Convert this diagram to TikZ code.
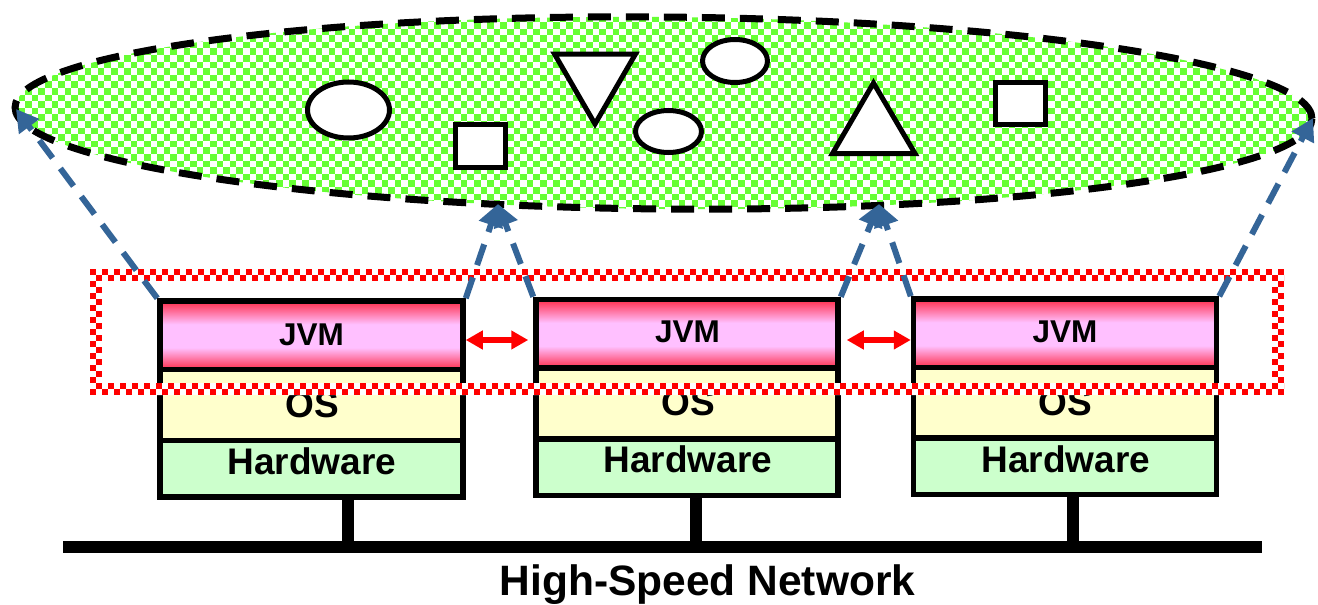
\documentclass[tikz,border=0pt]{standalone}
\usepackage{fontspec}
\setmainfont{Liberation Sans}
\usetikzlibrary{arrows.meta,shapes.geometric}

\definecolor{jred}{RGB}{255,45,75}
\definecolor{jpink}{RGB}{255,192,255}
\definecolor{osfill}{RGB}{255,255,204}
\definecolor{hwfill}{RGB}{204,255,204}
\definecolor{checkgreen}{RGB}{102,255,51}
\definecolor{arrblue}{RGB}{52,101,152}

\pgfdeclareverticalshading{jvmshade}{100bp}{color(0bp)=(jred); color(25bp)=(jred); color(41bp)=(jpink); color(58bp)=(jpink); color(75bp)=(jred); color(100bp)=(jred)}

\begin{document}
\begin{tikzpicture}[x=1pt,y=-1pt,
  layer/.style={draw=black, line width=5.5pt, minimum width=303pt, inner sep=0pt},
  jvmbox/.style={layer, shading=jvmshade},
  osbox/.style={layer, fill=osfill},
  hwbox/.style={layer, fill=hwfill},
  jvmtxt/.style={anchor=base, inner sep=0pt, font=\bfseries\fontsize{31.5}{36}\selectfont},
  lyrtxt/.style={anchor=base, inner sep=0pt, font=\bfseries\fontsize{37}{42}\selectfont},
  shp/.style={draw=black, fill=white, line width=5pt, inner sep=0pt, line join=miter},
  stub/.style={draw=black, line width=12pt},
  chk/.style={draw=#1, line width=6pt, dash pattern=on 6pt off 6pt},
  gchk/.style={draw=checkgreen, line width=6.6pt, dash pattern=on 6.6pt off 6.6pt},
  bluearr/.style={draw=arrblue, line width=6pt, dash pattern=on 22pt off 13pt, -{Triangle[length=22pt,width=24pt]}},
  redarr/.style={draw=red, line width=6pt, {Triangle[length=17pt,width=18pt]}-{Triangle[length=17pt,width=18pt]}}
]
\useasboundingbox (0,0) rectangle (1318,605);
\fill[white] (0,0) rectangle (1318,605);

% cloud ellipse: checkered fill
\begin{scope}
  \clip[rotate around={-0.5:(663.5,113)}] (663.5,113) ellipse [x radius=648.5pt, y radius=96pt];
  \foreach \k in {0,...,33} {
    \pgfmathsetmacro\yy{12+6.6*\k}
    \pgfmathsetmacro\ph{6.6*mod(\k,2)}
    \draw[gchk, dash phase=\ph pt] (12,\yy) -- (1318,\yy);
  }
\end{scope}
\node[ellipse, draw=black, line width=7pt, dash pattern=on 23pt off 15pt,
      minimum width=1297pt, minimum height=192pt, inner sep=0pt, rotate=-0.5] (cloud) at (663.5,113) {};

% objects inside
\node[shp, ellipse, minimum width=82pt, minimum height=56pt] (e1) at (348.5,110) {};
\node[shp, minimum width=50pt, minimum height=43pt] (s1) at (480,145.5) {};
\draw[shp] (554.5,54) -- (635.5,54) -- (595,124) -- cycle;
\node[shp, ellipse, minimum width=65pt, minimum height=43pt] (e2) at (735,61) {};
\node[shp, ellipse, minimum width=66pt, minimum height=42pt] (e3) at (668.5,131.5) {};
\draw[shp] (832.5,153.5) -- (915,153.5) -- (873.5,83) -- cycle;
\node[shp, minimum width=50pt, minimum height=42pt] (s2) at (1020.5,103.5) {};

% stacks
\node[hwbox, minimum height=56.5pt] (hw1) at (311.5,468.75) {};
\node[osbox, minimum height=71pt] (os1) at (311.5,405) {};
\node[jvmbox, minimum height=68.5pt] (jvm1) at (311.5,335.25) {};

\node[hwbox, minimum width=302pt, minimum height=56.5pt] (hw2) at (687,467.25) {};
\node[osbox, minimum width=302pt, minimum height=71pt] (os2) at (687,403.5) {};
\node[jvmbox, minimum width=302pt, minimum height=68.5pt] (jvm2) at (687,333.75) {};

\node[hwbox, minimum height=56.5pt] (hw3) at (1065,466.25) {};
\node[osbox, minimum height=70.5pt] (os3) at (1065,402.75) {};
\node[jvmbox, minimum height=68.5pt] (jvm3) at (1065,333.25) {};

\node[jvmtxt] (tj1) at (311.5,345) {JVM};
\node[lyrtxt] (to1) at (312,417) {OS};
\node[lyrtxt] (th1) at (312,474) {Hardware};
\node[jvmtxt] (tj2) at (687.5,342) {JVM};
\node[lyrtxt] (to2) at (688,415) {OS};
\node[lyrtxt] (th2) at (688,472) {Hardware};
\node[jvmtxt] (tj3) at (1065,342) {JVM};
\node[lyrtxt] (to3) at (1065.5,415) {OS};
\node[lyrtxt] (th3) at (1066,472) {Hardware};

% network
\node[fill=black, inner sep=0pt, minimum width=1199pt, minimum height=11.5pt] (net) at (662.5,547) {};
\draw[stub] (348,0 |- hw1.south) -- (348,0 |- net.center);
\draw[stub] (696,0 |- hw2.south) -- (696,0 |- net.center);
\draw[stub] (1073,0 |- hw3.south) -- (1073,0 |- net.center);
\node[anchor=base, inner sep=0pt, font=\bfseries\fontsize{42.5}{48}\selectfont] (nettxt) at (707.5,595) {High-Speed Network};

% red checkered frame
\fill[white, even odd rule] (90,269) rectangle (1284,395) (102,281) rectangle (1272,383);
\foreach \k in {0,...,20} {
  \pgfmathsetmacro\yy{272+6*\k}
  \pgfmathsetmacro\ph{6*mod(\k,2)}
  \pgfmathsetmacro\phr{6*mod(\k+1,2)}
  \ifnum\k<2
    \draw[chk=red, dash phase=\ph pt] (90,\yy) -- (1284,\yy);
  \else\ifnum\k>18
    \draw[chk=red, dash phase=\ph pt] (90,\yy) -- (1284,\yy);
  \else
    \draw[chk=red, dash phase=\ph pt] (90,\yy) -- (102,\yy);
    \draw[chk=red, dash phase=\phr pt] (1272,\yy) -- (1284,\yy);
  \fi\fi
}

% blue dashed arrows
\coordinate (tipL) at (16,109);
\coordinate (tipA) at (498,204);
\coordinate (tipB) at (879,204);
\coordinate (tipR) at (1313,118);
\draw[bluearr] (jvm1.north west) -- (tipL);
\draw[bluearr] (jvm1.north east) -- (tipA);
\draw[bluearr] (jvm2.north west) -- (tipA);
\draw[bluearr] (jvm2.north east) -- (tipB);
\draw[bluearr] (jvm3.north west) -- (tipB);
\draw[bluearr] (jvm3.north east) -- (tipR);

% red double arrows
\draw[redarr, shorten >=5pt] (jvm1.east |- 0,340) -- (jvm2.west |- 0,340);
\draw[redarr, shorten <=6pt] (jvm2.east |- 0,340) -- (jvm3.west |- 0,340);
\end{tikzpicture}
\end{document}
